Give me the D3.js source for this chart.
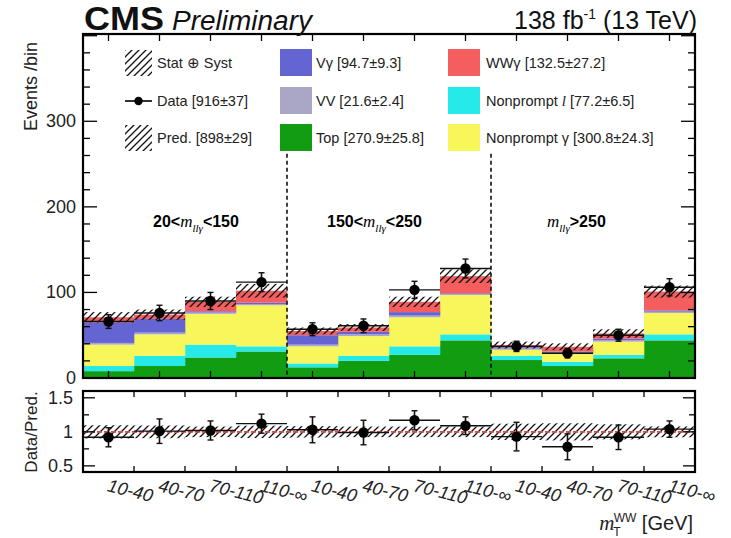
<!DOCTYPE html>
<html><head><meta charset="utf-8">
<script src="https://cdn.jsdelivr.net/npm/d3@7"></script>
<style>body{margin:0;background:#fff}svg{display:block}text{font-family:"Liberation Sans",Arial,sans-serif}</style>
</head><body>
<svg id="c" width="731" height="538"></svg>
<script>
// ---------- data ----------
const binLabels = ["10-40","40-70","70-110","110-\u221e","10-40","40-70","70-110","110-\u221e","10-40","40-70","70-110","110-\u221e"];
const regionLabels = [["20<","<150"],["150<","<250"],["",">250"]];
const topBkg      = [8, 14, 24, 31, 12.5, 20, 27, 44, 21, 14, 23, 44];
const nonpromptL  = [6, 12, 15, 6, 4.5, 6, 10, 7, 5, 5, 4, 7];
const nonpromptG  = [25, 25, 36, 48, 20, 23, 34, 46, 7, 9, 15.5, 25];
const vv          = [2, 2, 1.5, 1.5, 2, 2, 2, 1, 1.5, 1.5, 1.5, 1.5];
const vgamma      = [24, 16, 1.5, 1.5, 11, 3, 4, 1, 1.5, 1.5, 2, 1.5];
const wwgamma     = [6, 5, 11, 14, 5, 5, 12, 20, 2.5, 5.5, 6, 22];
const predUnc     = [6, 6, 6, 8, 4, 4, 6, 8, 4, 4, 5, 7];
const dataVals    = [66, 76, 90, 112, 57, 61, 103, 128, 37, 29, 50, 106];
const dataErr     = [8, 9, 10, 11, 7.5, 8, 10, 11, 6, 5.5, 7, 10];
const ratioVals   = [0.92, 1.01, 1.02, 1.12, 1.03, 0.99, 1.17, 1.09, 0.93, 0.78, 0.92, 1.04];
const ratioErr    = [0.14, 0.18, 0.14, 0.14, 0.19, 0.18, 0.14, 0.13, 0.21, 0.19, 0.18, 0.12];
const seriesNames = ["Top","Nonprompt l","Nonprompt \u03b3","VV","V\u03b3","WW\u03b3"];
const seriesColors= ["#129c12","#26eaea","#f7f75c","#aaa6c6","#6464d2","#f45e5e"];
const legendEntries = [
  {col:0,row:0,type:"hatch",parts:["Stat \u2295 Syst"]},
  {col:0,row:1,type:"data",parts:["Data [916\u00b137]"]},
  {col:0,row:2,type:"hatch",parts:["Pred. [898\u00b129]"]},
  {col:1,row:0,type:"box",color:"#6464d2",parts:["V\u03b3 [94.7\u00b19.3]"]},
  {col:1,row:1,type:"box",color:"#aaa6c6",parts:["VV [21.6\u00b12.4]"]},
  {col:1,row:2,type:"box",color:"#129c12",parts:["Top [270.9\u00b125.8]"]},
  {col:2,row:0,type:"box",color:"#f45e5e",parts:["WW\u03b3 [132.5\u00b127.2]"]},
  {col:2,row:1,type:"box",color:"#26eaea",parts:["Nonprompt ","l"," [77.2\u00b16.5]"]},
  {col:2,row:2,type:"box",color:"#f7f75c",parts:["Nonprompt \u03b3 [300.8\u00b124.3]"]}
];
const yTicks = [0,100,200,300];
const rTicks = [0.5,1,1.5];

// ---------- layout ----------
const svg = d3.select("#c");
const L=83, R=695, T=34, B=378, RT=391, RB=472;
const nb = binLabels.length;
const x = d3.scaleLinear().domain([0,nb]).range([L,R]);
const y = d3.scaleLinear().domain([0,402]).range([B,T]);
const yr = d3.scaleLinear().domain([0.41,1.6]).range([RB,RT]);

const defs = svg.append("defs");
const pat = defs.append("pattern").attr("id","hatch").attr("patternUnits","userSpaceOnUse")
  .attr("width",7).attr("height",7);
pat.append("path").attr("d","M-1,8 L8,-1 M-3,3 L3,-3 M4,10 L10,4").attr("stroke","#111").attr("stroke-width",1.3);
defs.append("clipPath").attr("id","clipMain").append("rect").attr("x",L).attr("y",T).attr("width",R-L).attr("height",B-T);
defs.append("clipPath").attr("id","clipRatio").append("rect").attr("x",L).attr("y",RT).attr("width",R-L).attr("height",RB-RT);

// stacked histogram
const stackInput = d3.range(nb).map(i=>({i, s0:topBkg[i], s1:nonpromptL[i], s2:nonpromptG[i], s3:vv[i], s4:vgamma[i], s5:wwgamma[i]}));
const stack = d3.stack().keys(["s0","s1","s2","s3","s4","s5"])(stackInput);
const gMain = svg.append("g").attr("clip-path","url(#clipMain)");
stack.forEach((layer,k)=>{
  gMain.selectAll(null).data(layer).enter().append("rect")
    .attr("x",d=>x(d.data.i)).attr("width",x(1)-x(0)+0.3)
    .attr("y",d=>y(d[1])).attr("height",d=>y(d[0])-y(d[1]))
    .attr("fill",seriesColors[k]);
});
const totals = d3.range(nb).map(i=>stack[stack.length-1][i][1]);
// uncertainty hatch
gMain.selectAll(null).data(d3.range(nb)).enter().append("rect")
  .attr("x",i=>x(i)).attr("width",x(1)-x(0))
  .attr("y",i=>y(totals[i]+predUnc[i])).attr("height",i=>y(totals[i]-predUnc[i])-y(totals[i]+predUnc[i]))
  .attr("fill","url(#hatch)");

// region dividers
[4,8].forEach(b=>{
  svg.append("line").attr("x1",x(b)).attr("x2",x(b)).attr("y1",y(262)).attr("y2",B)
    .attr("stroke","#111").attr("stroke-width",1.6).attr("stroke-dasharray","4,3");
});

// region labels
const regX=[153,327,547];
regionLabels.forEach((r,k)=>{
  const t=svg.append("text").attr("x",regX[k]).attr("y",227).attr("font-size",16).attr("font-weight","bold");
  if(r[0]) t.append("tspan").text(r[0]);
  t.append("tspan").attr("font-family","Liberation Serif,serif").attr("font-style","italic").attr("font-weight","normal").attr("font-size",17).text("m");
  t.append("tspan").attr("font-family","Liberation Serif,serif").attr("font-style","italic").attr("font-weight","normal").attr("font-size",11).attr("dy",5).text("ll\u03b3");
  t.append("tspan").attr("dy",-5).text(r[1]);
});

// data points
function drawData(g, ys, vals, errs){
  const d = d3.range(nb);
  g.selectAll(null).data(d).enter().append("line")
    .attr("x1",i=>x(i)).attr("x2",i=>x(i+1)).attr("y1",i=>ys(vals[i])).attr("y2",i=>ys(vals[i]))
    .attr("stroke","#111").attr("stroke-width",1.4);
  g.selectAll(null).data(d).enter().append("line")
    .attr("x1",i=>x(i+0.5)).attr("x2",i=>x(i+0.5)).attr("y1",i=>ys(vals[i]-errs[i])).attr("y2",i=>ys(vals[i]+errs[i]))
    .attr("stroke","#111").attr("stroke-width",1.6);
  [1,-1].forEach(s=>{
    g.selectAll(null).data(d).enter().append("line")
      .attr("x1",i=>x(i+0.5)-3).attr("x2",i=>x(i+0.5)+3).attr("y1",i=>ys(vals[i]+s*errs[i])).attr("y2",i=>ys(vals[i]+s*errs[i]))
      .attr("stroke","#111").attr("stroke-width",1.4);
  });
  g.selectAll(null).data(d).enter().append("circle")
    .attr("cx",i=>x(i+0.5)).attr("cy",i=>ys(vals[i])).attr("r",5.2).attr("fill","#000");
}
drawData(svg.append("g"), y, dataVals, dataErr);

// frames & ticks
function frame(top,bot){
  svg.append("rect").attr("x",L).attr("y",top).attr("width",R-L).attr("height",bot-top)
    .attr("fill","none").attr("stroke","#000").attr("stroke-width",2.2);
}
frame(T,B);
const tk = svg.append("g").attr("stroke","#000").attr("stroke-width",1.3);
d3.range(0,402,20).forEach(v=>{
  const major = v%100===0; const len = major?14:7;
  tk.append("line").attr("x1",L).attr("x2",L+len).attr("y1",y(v)).attr("y2",y(v));
  tk.append("line").attr("x1",R).attr("x2",R-len).attr("y1",y(v)).attr("y2",y(v));
});
d3.range(nb).forEach(i=>{
  tk.append("line").attr("x1",x(i+0.5)).attr("x2",x(i+0.5)).attr("y1",B).attr("y2",B-7);
  tk.append("line").attr("x1",x(i+0.5)).attr("x2",x(i+0.5)).attr("y1",T).attr("y2",T+7);
});
yTicks.forEach(v=>{
  svg.append("text").attr("x",76).attr("y",y(v)+6).attr("text-anchor","end").attr("font-size",18).attr("fill","#222").text(v);
});
svg.append("text").attr("transform","translate(37,42) rotate(-90)").attr("text-anchor","end")
  .attr("font-size",18).attr("fill","#222").text("Events /bin");

// legend
const colSym=[125,280,448], colTxt=[157,316,486], rowY=[63,101,138];
legendEntries.forEach(e=>{
  const cy=rowY[e.row];
  if(e.type==="box"){
    svg.append("rect").attr("x",colSym[e.col]).attr("y",cy-14).attr("width",32).attr("height",27).attr("fill",e.color);
  } else if(e.type==="hatch"){
    svg.append("rect").attr("x",colSym[e.col]).attr("y",cy-13).attr("width",27).attr("height",26).attr("fill","url(#hatch)");
  } else {
    svg.append("line").attr("x1",colSym[e.col]).attr("x2",colSym[e.col]+27).attr("y1",cy).attr("y2",cy).attr("stroke","#000").attr("stroke-width",1.6);
    svg.append("circle").attr("cx",colSym[e.col]+13.5).attr("cy",cy).attr("r",4.2).attr("fill","#000");
  }
  const t = svg.append("text").attr("x",colTxt[e.col]).attr("y",cy+5).attr("font-size",14.5).attr("fill","#222");
  e.parts.forEach((p,j)=>{
    const s=t.append("tspan").text(p);
    if(e.parts.length>1 && j===1) s.attr("font-style","italic").attr("font-family","Liberation Serif,serif").attr("font-size",15);
  });
});

// ratio panel
const gR = svg.append("g").attr("clip-path","url(#clipRatio)");
gR.selectAll(null).data(d3.range(nb)).enter().append("rect")
  .attr("x",i=>x(i)).attr("width",x(1)-x(0))
  .attr("y",i=>yr(1+predUnc[i]/totals[i]*1.15)).attr("height",i=>yr(1-predUnc[i]/totals[i]*1.15)-yr(1+predUnc[i]/totals[i]*1.15))
  .attr("fill","url(#hatch)");
gR.append("line").attr("x1",L).attr("x2",R).attr("y1",yr(1)).attr("y2",yr(1))
  .attr("stroke","#e04848").attr("stroke-width",1.6).attr("stroke-dasharray","5,2");
drawData(svg.append("g"), yr, ratioVals, ratioErr);
frame(RT,RB);
d3.range(0.5,1.51,0.25).forEach(v=>{
  const major = Math.abs(v*2-Math.round(v*2))<1e-6; const len = major?12:6;
  tk.append("line").attr("x1",L).attr("x2",L+len).attr("y1",yr(v)).attr("y2",yr(v));
  tk.append("line").attr("x1",R).attr("x2",R-len).attr("y1",yr(v)).attr("y2",yr(v));
});
d3.range(1,nb).forEach(i=>{
  tk.append("line").attr("x1",x(i)).attr("x2",x(i)).attr("y1",RB).attr("y2",RB-6);
  tk.append("line").attr("x1",x(i)).attr("x2",x(i)).attr("y1",RT).attr("y2",RT+6);
});
tk.raise();
rTicks.forEach(v=>{
  svg.append("text").attr("x",73).attr("y",yr(v)+6).attr("text-anchor","end").attr("font-size",18).attr("fill","#222").text(v);
});
svg.append("text").attr("transform","translate(37,432) rotate(-90)").attr("text-anchor","middle")
  .attr("font-size",17).attr("fill","#222").text("Data/Pred.");

// x tick labels
binLabels.forEach((lab,i)=>{
  svg.append("text").attr("transform",`translate(${x(i+0.5)-2},${491}) rotate(14)`)
    .attr("font-size",18).attr("font-style","italic").attr("fill","#222").text(lab);
});
// x title
const xt = svg.append("text").attr("x",693).attr("y",530).attr("text-anchor","end").attr("font-size",20).attr("fill","#222");
xt.append("tspan").attr("font-style","italic").attr("font-family","Liberation Serif,serif").attr("font-size",21).text("m");
xt.append("tspan").attr("font-size",12).attr("dy",6).attr("dx",-1).text("T");
xt.append("tspan").attr("font-size",12).attr("dy",-14).attr("dx",-7).text("WW");
xt.append("tspan").attr("dy",8).text(" [GeV]");

// header
svg.append("text").attr("x",84).attr("y",30).attr("font-size",34).attr("font-weight","bold").attr("fill","#111")
  .attr("textLength",80).attr("lengthAdjust","spacingAndGlyphs").text("CMS");
svg.append("text").attr("x",172).attr("y",30).attr("font-size",27).attr("font-style","italic").attr("fill","#111")
  .attr("textLength",140).attr("lengthAdjust","spacingAndGlyphs").text("Preliminary");
const lum = svg.append("text").attr("x",697).attr("y",29).attr("text-anchor","end").attr("font-size",25).attr("fill","#111");
lum.append("tspan").text("138 fb");
lum.append("tspan").attr("font-size",14).attr("dy",-10).text("-1");
lum.append("tspan").attr("dy",10).text(" (13 TeV)");
</script>
</body></html>
